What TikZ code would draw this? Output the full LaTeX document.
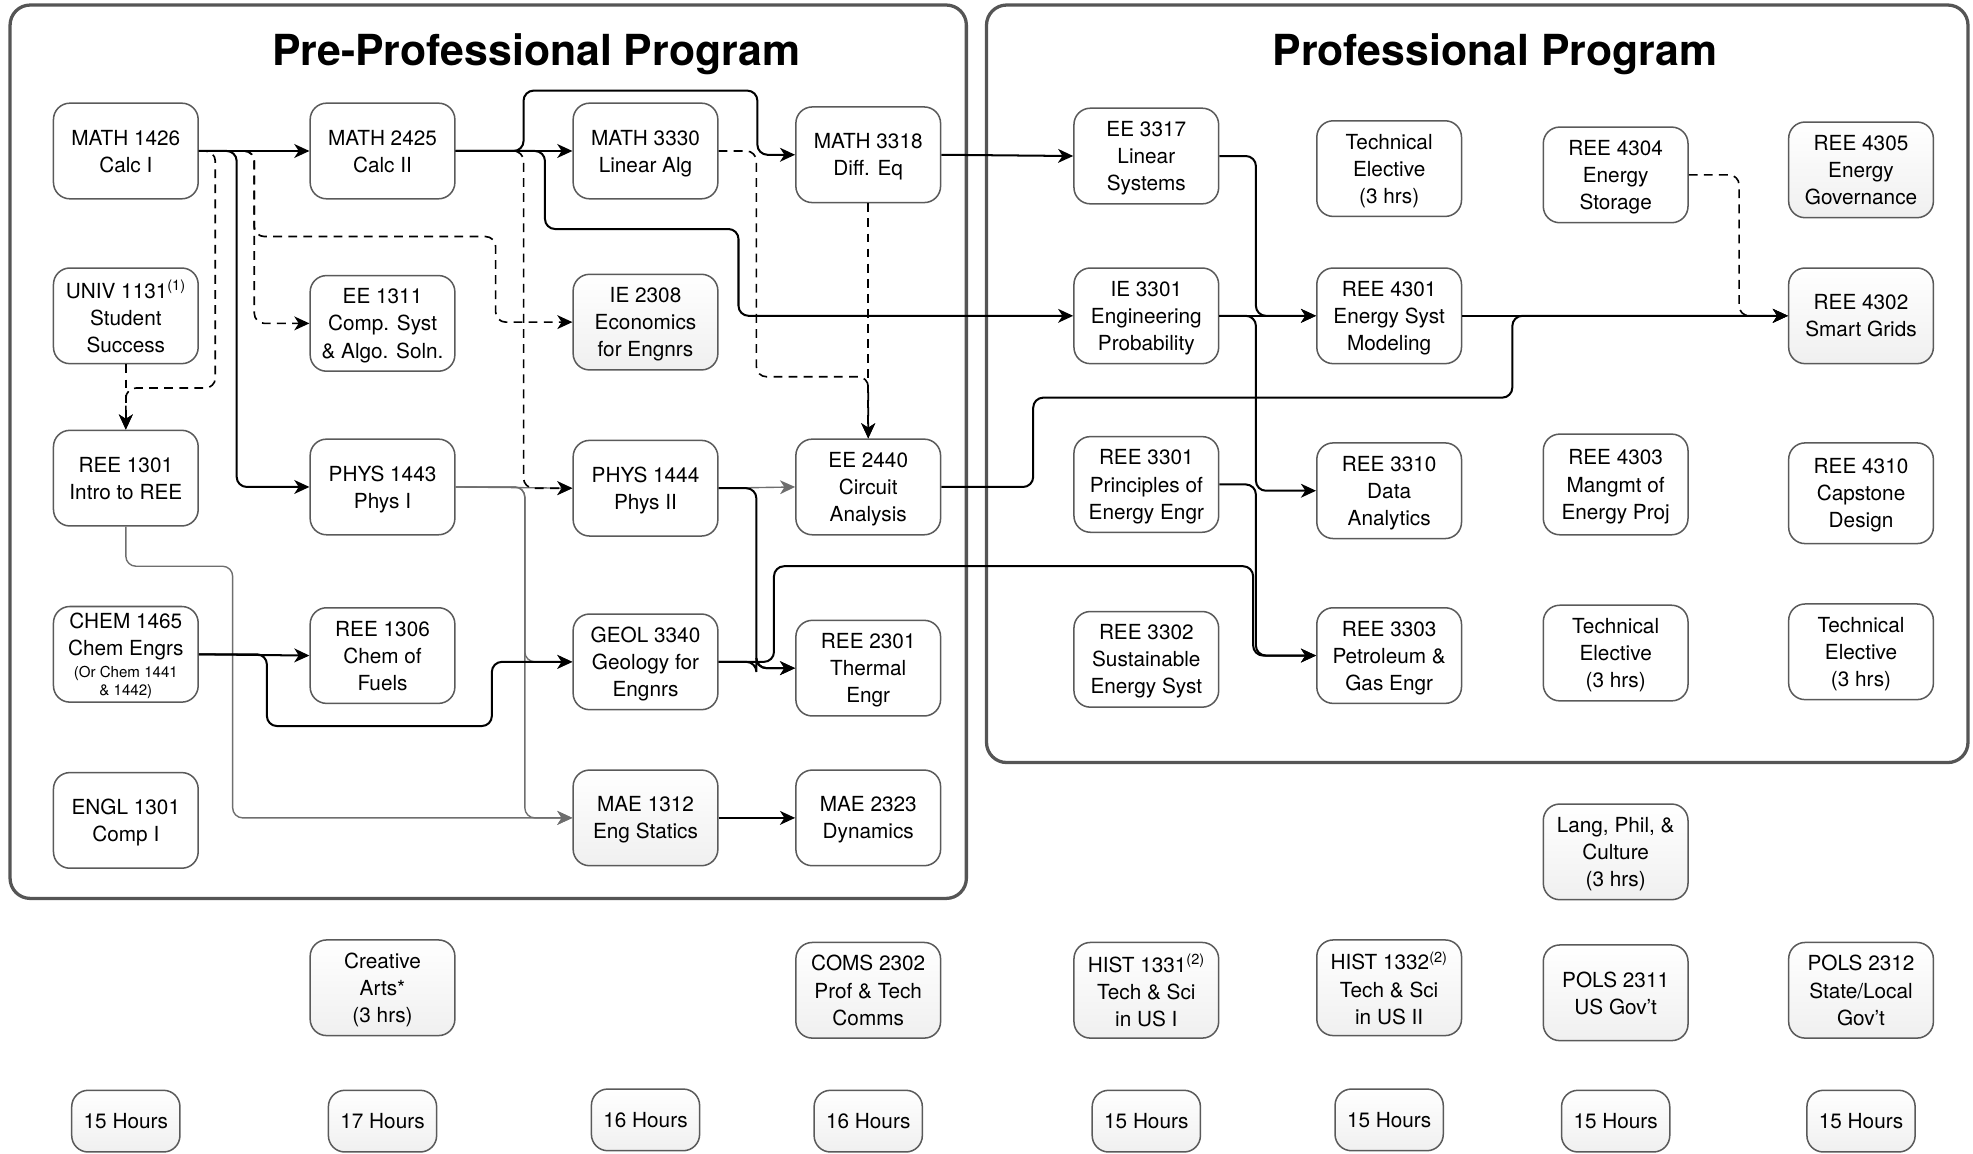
\documentclass[tikz,border=0pt]{standalone}
\usepackage{fontspec}
\setmainfont{TeX Gyre Heros}
\usetikzlibrary{arrows.meta,calc}
\definecolor{boxc}{HTML}{5A5A5A}
\definecolor{contc}{HTML}{555555}
\definecolor{gline}{HTML}{6E6E6E}
\begin{document}
\begin{tikzpicture}[x=1pt,y=-1pt,
 course/.style={draw=boxc, line width=1.2pt, rounded corners=13pt, minimum width=115pt, minimum height=76pt, align=center, inner sep=0pt, text depth=-4pt, fill=white, font=\fontsize{16.5}{21.5}\selectfont},
 shd/.style={top color=white, bottom color=black!6},
 hours/.style={course, minimum width=86pt, minimum height=49pt, shd},
 cont/.style={draw=contc, line width=2.6pt, rounded corners=16pt},
 ttl/.style={font=\fontsize{34}{40}\selectfont\bfseries},
 arr/.style={draw=black, line width=1.6pt, rounded corners=8pt, -{Stealth[length=12pt,width=11pt,inset=3.5pt]}},
 garr/.style={draw=gline, line width=1.1pt, rounded corners=8pt, -{Stealth[length=12pt,width=11pt,inset=3.5pt]}},
 darr/.style={draw=black, line width=1.3pt, dash pattern=on 7pt off 5pt, rounded corners=8pt, -{Stealth[length=12pt,width=11pt,inset=3.5pt]}},
]
\useasboundingbox (0,0) rectangle (1568,917);
% containers
\draw[cont] (8,4) rectangle (768,714);
\draw[cont] (784,4) rectangle (1564,606);
\node[ttl] (t1) at (426,43) {Pre-Professional Program};
\node[ttl] (t2) at (1188,43) {Professional Program};
% pre-professional nodes
\node[course] (m1426) at (100,120) {MATH 1426\\Calc I};
\node[course] (u1131) at (100,251) {UNIV 1131\textsuperscript{(1)}\\Student\\Success};
\node[course] (r1301) at (100,380) {REE 1301\\Intro to REE};
\node[course] (c1465) at (100,520) {CHEM 1465\\Chem Engrs\\[-4pt]{\fontsize{12}{14}\selectfont (Or Chem 1441}\\[-7pt]{\fontsize{12}{14}\selectfont \& 1442)}};
\node[course] (e1301) at (100,652) {ENGL 1301\\Comp I};
\node[course] (m2425) at (304,120) {MATH 2425\\Calc II};
\node[course] (ee1311) at (304,257) {EE 1311\\Comp. Syst\\\& Algo. Soln.};
\node[course] (p1443) at (304,387) {PHYS 1443\\Phys I};
\node[course] (r1306) at (304,521) {REE 1306\\Chem of\\Fuels};
\node[course] (m3330) at (513,120) {MATH 3330\\Linear Alg};
\node[course,shd] (ie2308) at (513,256) {IE 2308\\Economics\\for Engnrs};
\node[course] (p1444) at (513,388) {PHYS 1444\\Phys II};
\node[course] (g3340) at (513,526) {GEOL 3340\\Geology for\\Engnrs};
\node[course,shd] (mae1312) at (513,650) {MAE 1312\\Eng Statics};
\node[course] (m3318) at (690,123) {MATH 3318\\Diff. Eq};
\node[course] (ee2440) at (690,387) {EE 2440\\Circuit\\Analysis};
\node[course] (r2301) at (690,531) {REE 2301\\Thermal\\Engr};
\node[course] (mae2323) at (690,650) {MAE 2323\\Dynamics};
% professional nodes
\node[course] (ee3317) at (911,124) {EE 3317\\Linear\\Systems};
\node[course] (ie3301) at (911,251) {IE 3301\\Engineering\\Probability};
\node[course] (r3301) at (911,385) {REE 3301\\Principles of\\Energy Engr};
\node[course] (r3302) at (911,524) {REE 3302\\Sustainable\\Energy Syst};
\node[course] (te1) at (1104,134) {Technical\\Elective\\(3 hrs)};
\node[course] (r4301) at (1104,251) {REE 4301\\Energy Syst\\Modeling};
\node[course] (r3310) at (1104,390) {REE 3310\\Data\\Analytics};
\node[course] (r3303) at (1104,521) {REE 3303\\Petroleum \&\\Gas Engr};
\node[course] (r4304) at (1284,139) {REE 4304\\Energy\\Storage};
\node[course,minimum height=80pt] (r4303) at (1284,385) {REE 4303\\Mangmt of\\Energy Proj};
\node[course] (te2) at (1284,519) {Technical\\Elective\\(3 hrs)};
\node[course,shd] (lang) at (1284,677) {Lang, Phil, \&\\Culture\\(3 hrs)};
\node[course,shd] (r4305) at (1479,135) {REE 4305\\Energy\\Governance};
\node[course,shd] (r4302) at (1479,251) {REE 4302\\Smart Grids};
\node[course,minimum height=80pt] (r4310) at (1479,392) {REE 4310\\Capstone\\Design};
\node[course] (te3) at (1479,518) {Technical\\Elective\\(3 hrs)};
% bottom row
\node[course,shd] (ca) at (304,785) {Creative\\Arts*\\(3 hrs)};
\node[course,shd] (coms) at (690,787) {COMS 2302\\Prof \& Tech\\Comms};
\node[course,shd] (h1331) at (911,787) {HIST 1331\textsuperscript{(2)}\\Tech \& Sci\\in US I};
\node[course,shd] (h1332) at (1104,785) {HIST 1332\textsuperscript{(2)}\\Tech \& Sci\\in US II};
\node[course,shd] (pols1) at (1284,789) {POLS 2311\\US Gov’t};
\node[course,shd] (pols2) at (1479,787) {POLS 2312\\State/Local\\Gov’t};
% hours
\node[hours] (hr1) at (100,891) {15 Hours};
\node[hours] (hr2) at (304,891) {17 Hours};
\node[hours] (hr3) at (513,890) {16 Hours};
\node[hours] (hr4) at (690,891) {16 Hours};
\node[hours] (hr5) at (911,891) {15 Hours};
\node[hours] (hr6) at (1104,890) {15 Hours};
\node[hours] (hr7) at (1284,891) {15 Hours};
\node[hours] (hr8) at (1479,891) {15 Hours};
% connectors: gray
\draw[garr] (p1443.east) -- (p1444.west);
\draw[garr] (p1443.east) -- ++(55,0) |- (g3340.west);
\draw[garr] (p1443.east) -- ++(55,0) |- (mae1312.west);
\draw[garr] (r1301.south) |- ($(mae1312.west)+(-270,-200)$) |- (mae1312.west);
\draw[garr] (p1444.east) -- (ee2440.west);
% dashed
\draw[darr] (m1426.east) -- ++(44,0) |- (ee1311.west);
\draw[darr] (m1426.east) -- ++(44,0) |- ($(ie2308.west)+(-61,-68)$) |- (ie2308.west);
\draw[darr] (m1426.east) -- ++(13,0) |- ($(r1301.north)+(0,-33)$) -- (r1301.north);
\draw[darr] (u1131.south) -- (r1301.north);
\draw[darr] (m2425.east) -- ++(54,0) |- (p1444.west);
\draw[darr] (m3330.east) -- ++(30,0) |- ($(ee2440.north)+(0,-49)$) -- (ee2440.north);
\draw[darr] (m3318.south) -- (ee2440.north);
\draw[darr] (r4304.east) -- ++(40,0) |- (r4302.west);
% solid black
\draw[arr] (m1426.east) -- (m2425.west);
\draw[arr] (m1426.east) -- ++(30,0) |- (p1443.west);
\draw[arr] (m2425.east) -- (m3330.west);
\draw[arr] (m2425.east) -- ++(54,0) |- ($(m3318.west)+(-30,-51)$) |- (m3318.west);
\draw[arr] (m2425.east) -- ++(71,0) |- ($(ie3301.west)+(-266,-69)$) |- (ie3301.west);
\draw[arr] (m3318.east) -- (ee3317.west);
\draw[arr] (p1444.east) -- ++(30,0) |- (r2301.west);
\draw[arr] (c1465.east) -- (r1306.west);
\draw[arr] (c1465.east) -- ++(54,0) |- ($(g3340.west)+(-64,51)$) |- (g3340.west);
\draw[arr] (g3340.east) -- ++(30,0) |- (r2301.west);
\draw[arr] (g3340.east) -- ++(44,0) |- ($(r3303.west)+(-50,-71)$) |- (r3303.west);
\draw[arr] (mae1312.east) -- (mae2323.west);
\draw[arr] (ee2440.east) -- ++(73,0) |- ($(r4302.west)+(-219,65)$) |- (r4302.west);
\draw[arr] (ee3317.east) -- ++(29,0) |- (r4301.west);
\draw[arr] (ie3301.east) -- (r4301.west);
\draw[arr] (ie3301.east) -- ++(29,0) |- (r3310.west);
\draw[arr] (r3301.east) -- ++(29,0) |- (r3303.west);
\draw[arr] (r4301.east) -- (r4302.west);
\end{tikzpicture}
\end{document}
